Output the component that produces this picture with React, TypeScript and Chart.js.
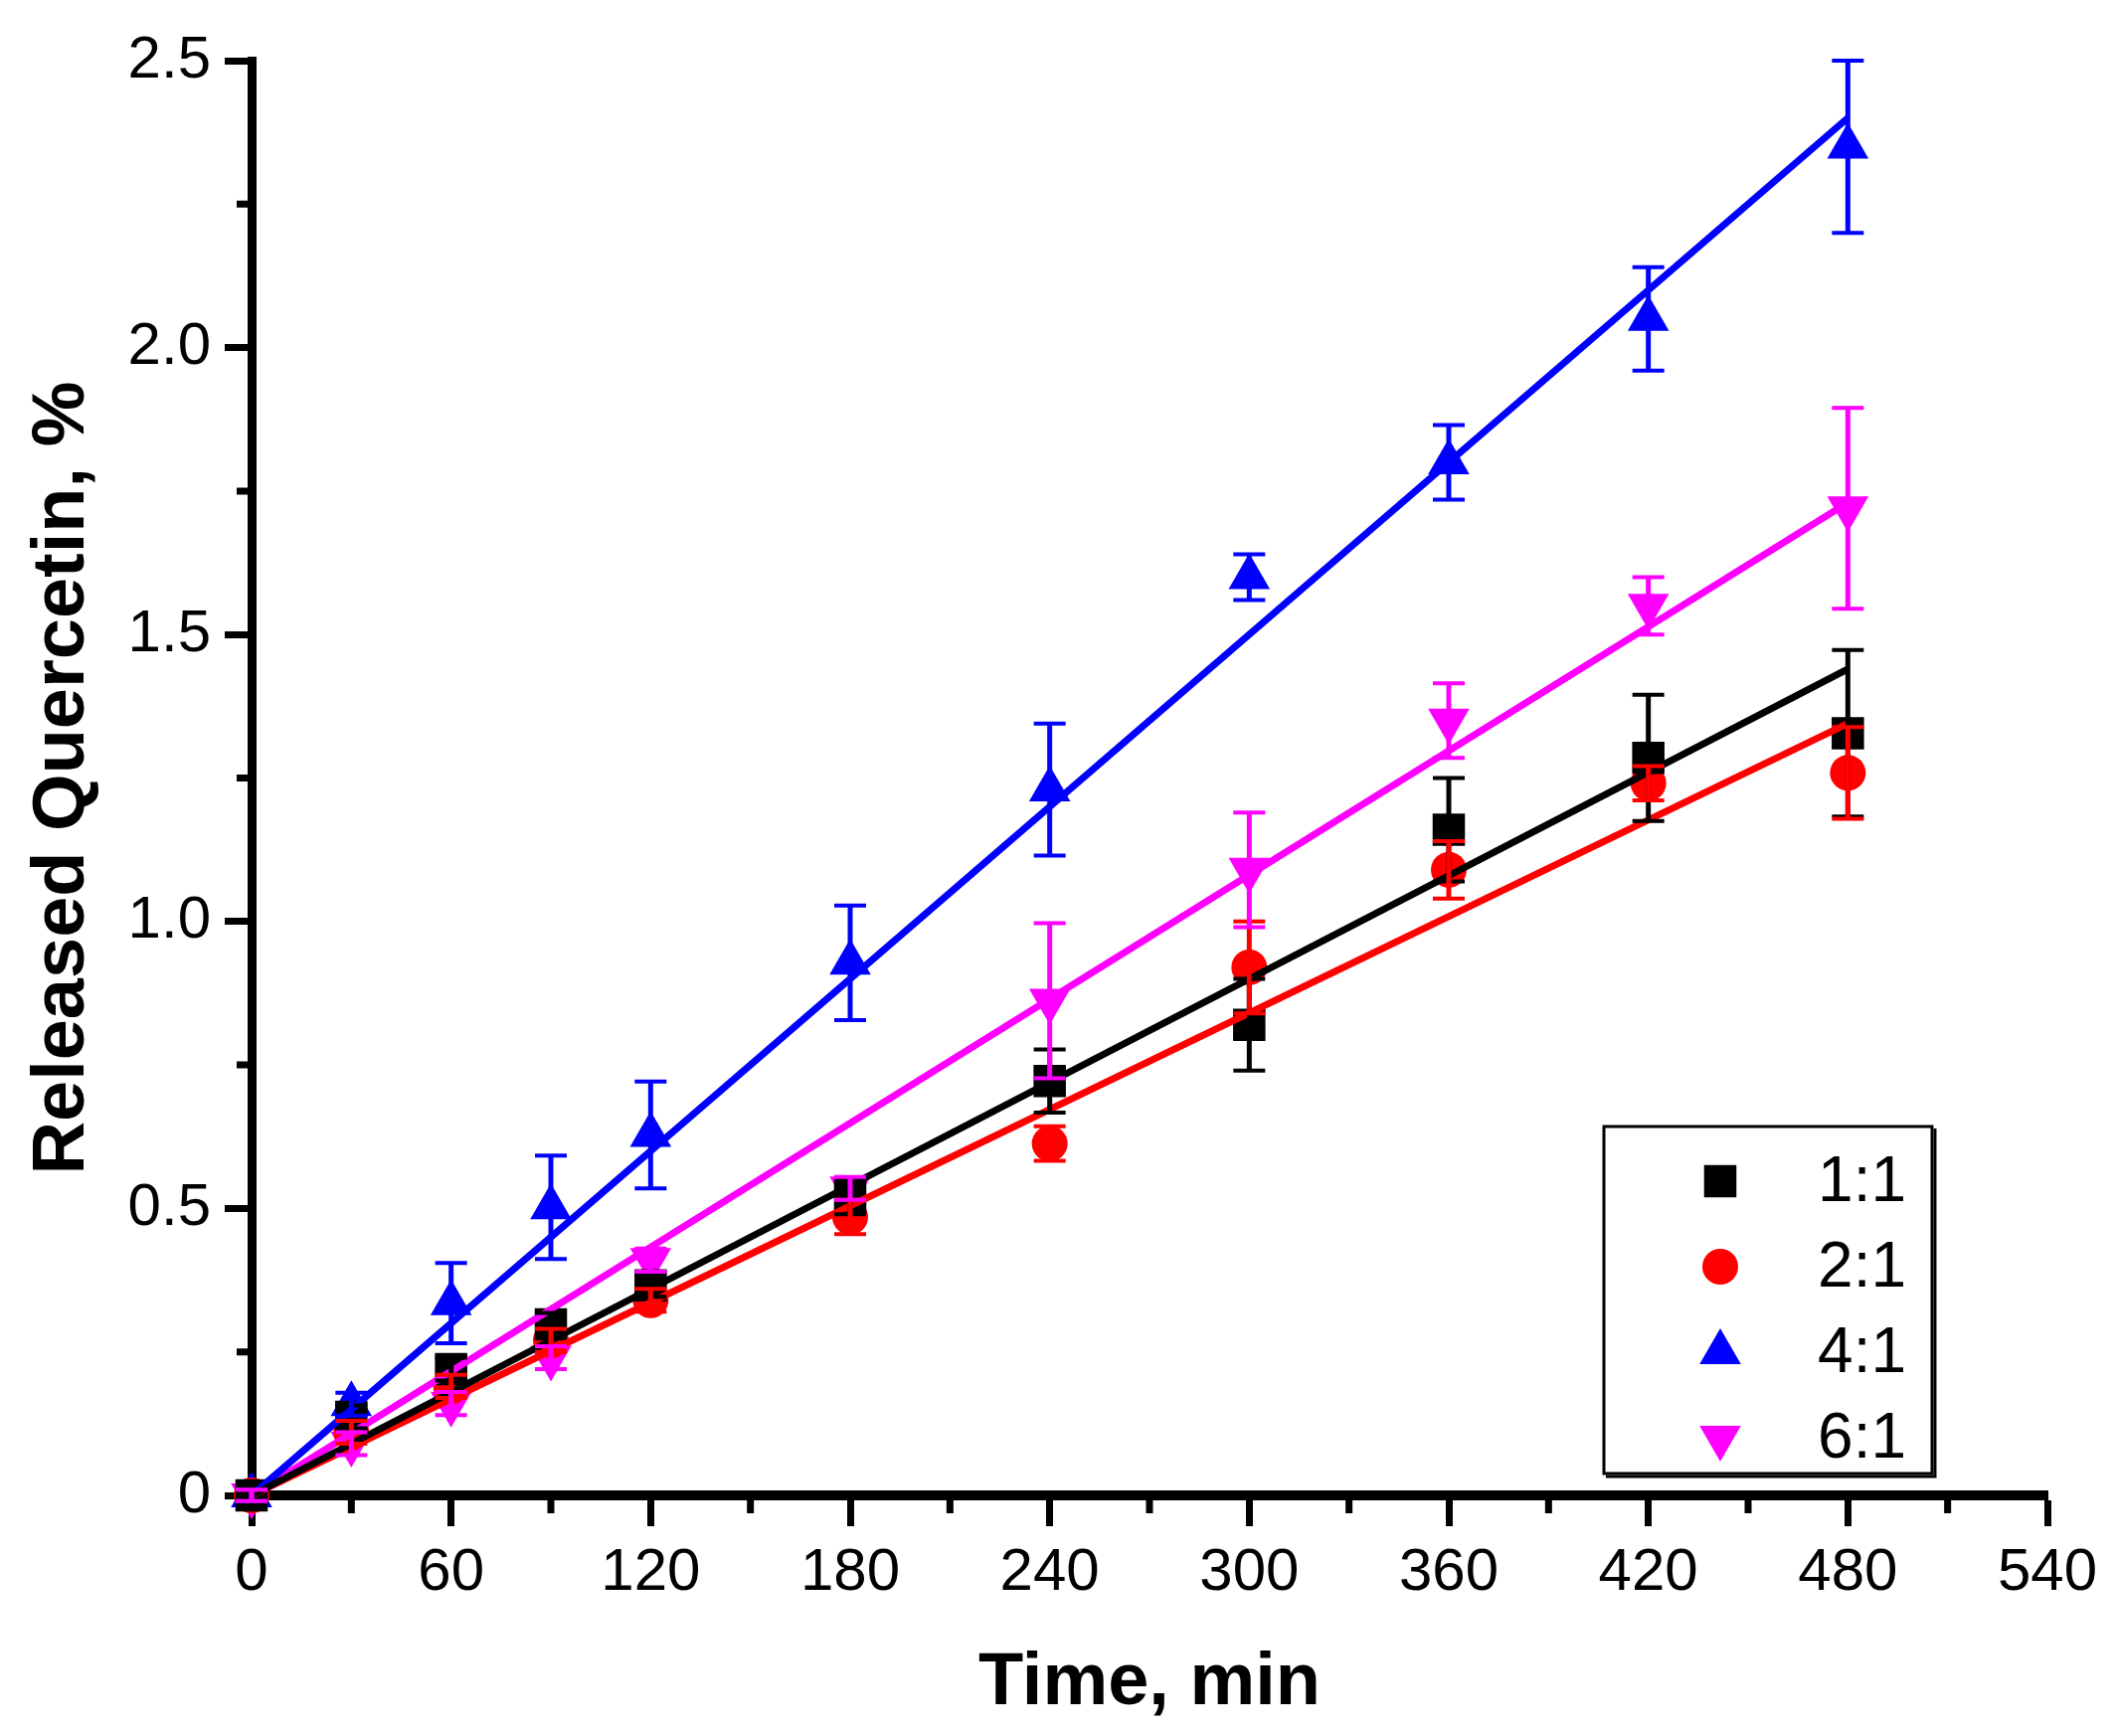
import { useEffect, useRef } from "react"
import { Chart, registerables } from "chart.js"
import { drawPoint } from "chart.js/helpers"

Chart.register(...registerables)

// sampling times, min
const times = [0, 30, 60, 90, 120, 180, 240, 300, 360, 420, 480]
const seriesLabels = ["1:1", "2:1", "4:1", "6:1"]
const seriesColors = ["#000000", "#ff0000", "#0000ff", "#ff00ff"]

// released quercetin, %
const release11 = [0, 0.137, 0.22, 0.298, 0.366, 0.52, 0.722, 0.82, 1.16, 1.285, 1.328]
const release21 = [0, 0.11, 0.19, 0.27, 0.34, 0.485, 0.613, 0.92, 1.09, 1.241, 1.259]
const release41 = [0, 0.159, 0.335, 0.502, 0.628, 0.928, 1.23, 1.6, 1.8, 2.05, 2.35]
const release61 = [0, 0.09, 0.16, 0.24, 0.41, 0.535, 0.862, 1.09, 1.35, 1.55, 1.72]

// standard deviations
const error11 = [0.01, 0.02, 0.02, 0.02, 0.02, 0.03, 0.055, 0.08, 0.09, 0.11, 0.145]
const error21 = [0.01, 0.02, 0.02, 0.02, 0.02, 0.03, 0.03, 0.08, 0.05, 0.03, 0.08]
const error41 = [0.01, 0.02, 0.07, 0.09, 0.093, 0.1, 0.115, 0.04, 0.065, 0.09, 0.15]
const error61 = [0.01, 0.02, 0.02, 0.02, 0.02, 0.02, 0.135, 0.1, 0.065, 0.05, 0.175]

// linear fits (start / end)
const fitTimes = [0, 480]
const fit11 = [0, 1.44]
const fit21 = [0, 1.345]
const fit41 = [0, 2.4]
const fit61 = [0, 1.73]

const xTicks = [0, 60, 120, 180, 240, 300, 360, 420, 480, 540]
const yTicks = [0, 0.5, 1.0, 1.5, 2.0, 2.5]

const pointStyles = [
  { pointStyle: "rect", radius: 23, rotation: 0 },
  { pointStyle: "circle", radius: 18, rotation: 0 },
  { pointStyle: "triangle", radius: 24, rotation: 0 },
  { pointStyle: "triangle", radius: 24, rotation: 180 },
]

const FONT = "'Liberation Sans', Arial, sans-serif"

const toPoints = (xs: number[], ys: number[]) => xs.map((x, i) => ({ x, y: ys[i] }))

// error bars, drawn on top of the markers
const errorBarPlugin = {
  id: "errorBars",
  afterDatasetsDraw(chart: any) {
    const { ctx } = chart
    const yScale = chart.scales.y
    chart.data.datasets.forEach((ds: any, i: number) => {
      if (!ds.errors) return
      const meta = chart.getDatasetMeta(i)
      ctx.save()
      ctx.strokeStyle = ds.backgroundColor
      meta.data.forEach((el: any, j: number) => {
        const v = ds.data[j].y
        const e = ds.errors[j]
        const top = yScale.getPixelForValue(v + e)
        const bottom = yScale.getPixelForValue(v - e)
        ctx.lineWidth = 5
        ctx.beginPath()
        ctx.moveTo(el.x, top)
        ctx.lineTo(el.x, bottom)
        ctx.stroke()
        ctx.lineWidth = 4
        ctx.beginPath()
        ctx.moveTo(el.x - 16, top)
        ctx.lineTo(el.x + 16, top)
        ctx.moveTo(el.x - 16, bottom)
        ctx.lineTo(el.x + 16, bottom)
        ctx.stroke()
      })
      ctx.restore()
    })
  },
}

// short minor ticks halfway between the labelled ones
const minorTickPlugin = {
  id: "minorTicks",
  afterDraw(chart: any) {
    const { ctx, chartArea } = chart
    const x = chart.scales.x
    const y = chart.scales.y
    ctx.save()
    ctx.strokeStyle = "#000"
    ctx.lineWidth = 7
    ctx.beginPath()
    for (let i = 0; i < xTicks.length - 1; i++) {
      const px = x.getPixelForValue((xTicks[i] + xTicks[i + 1]) / 2)
      ctx.moveTo(px, chartArea.bottom)
      ctx.lineTo(px, chartArea.bottom + 18)
    }
    for (let i = 0; i < yTicks.length - 1; i++) {
      const py = y.getPixelForValue((yTicks[i] + yTicks[i + 1]) / 2)
      ctx.moveTo(chartArea.left, py)
      ctx.lineTo(chartArea.left - 15, py)
    }
    ctx.stroke()
    ctx.restore()
  },
}

// boxed legend inside the lower right of the plot
const boxLegendPlugin = {
  id: "boxLegend",
  afterDraw(chart: any) {
    const { ctx, chartArea } = chart
    const w = 330
    const h = 349
    const right = chartArea.right - 116
    const bottom = chartArea.bottom - 22
    const left = right - w
    const top = bottom - h
    ctx.save()
    ctx.fillStyle = "#fff"
    ctx.fillRect(left, top, w, h)
    ctx.strokeStyle = "#000"
    ctx.lineWidth = 3
    ctx.strokeRect(left, top, w, h)
    ctx.lineWidth = 3
    ctx.beginPath()
    ctx.moveTo(left + 2, bottom + 3)
    ctx.lineTo(right + 3, bottom + 3)
    ctx.lineTo(right + 3, top + 2)
    ctx.stroke()
    seriesLabels.forEach((label, i) => {
      const cy = top + 55 + i * 86
      ctx.fillStyle = seriesColors[i]
      drawPoint(ctx, { ...pointStyles[i], borderWidth: 0 }, left + 117, cy)
      ctx.fillStyle = "#000"
      ctx.font = `64px ${FONT}`
      ctx.textAlign = "right"
      ctx.textBaseline = "middle"
      ctx.fillText(label, left + 304, cy + 2)
    })
    ctx.restore()
  },
}

export default function App() {
  const canvasRef = useRef<HTMLCanvasElement>(null)

  useEffect(() => {
    document.body.style.margin = "0"
    if (!canvasRef.current) return

    const releases = [release11, release21, release41, release61]
    const errors = [error11, error21, error41, error61]
    const fits = [fit11, fit21, fit41, fit61]

    const fitSets = fits.map((f, i) => ({
      label: `fit ${seriesLabels[i]}`,
      data: toPoints(fitTimes, f),
      showLine: true,
      borderColor: seriesColors[i],
      backgroundColor: seriesColors[i],
      borderWidth: 7,
      pointRadius: 0,
      clip: false as const,
    }))

    const pointSets = releases.map((r, i) => ({
      label: seriesLabels[i],
      data: toPoints(times, r),
      errors: errors[i],
      showLine: false,
      backgroundColor: seriesColors[i],
      borderColor: seriesColors[i],
      pointStyle: pointStyles[i].pointStyle,
      pointRadius: pointStyles[i].radius,
      pointRotation: pointStyles[i].rotation,
      pointBorderWidth: 0,
      clip: false as const,
    }))

    const chart = new Chart(canvasRef.current, {
      type: "scatter",
      data: { datasets: [...fitSets, ...pointSets] as any },
      plugins: [errorBarPlugin, minorTickPlugin, boxLegendPlugin],
      options: {
        animation: false,
        responsive: true,
        maintainAspectRatio: false,
        layout: { padding: { top: 61, right: 69, left: 0, bottom: 0 } },
        plugins: {
          legend: { display: false },
          tooltip: { enabled: false },
        },
        scales: {
          x: {
            type: "linear",
            min: 0,
            max: 540,
            afterFit: (scale: any) => {
              scale.height = 242
            },
            afterBuildTicks: (scale: any) => {
              scale.ticks = xTicks.map((v) => ({ value: v }))
            },
            border: { display: true, color: "#000", width: 10 },
            grid: { drawOnChartArea: false, drawTicks: true, tickLength: 31, tickWidth: 7, tickColor: "#000" },
            ticks: {
              color: "#000",
              padding: 11,
              maxRotation: 0,
              font: { family: FONT, size: 60 },
            },
            title: {
              display: true,
              text: "Time, min",
              color: "#000",
              padding: { top: 0, bottom: 8 },
              font: { family: FONT, size: 74, weight: "bold" },
            },
          },
          y: {
            type: "linear",
            min: 0,
            max: 2.5,
            afterFit: (scale: any) => {
              scale.width = 253
            },
            afterBuildTicks: (scale: any) => {
              scale.ticks = yTicks.map((v) => ({ value: v }))
            },
            border: { display: true, color: "#000", width: 9 },
            grid: { drawOnChartArea: false, drawTicks: true, tickLength: 27, tickWidth: 7, tickColor: "#000" },
            ticks: {
              color: "#000",
              padding: 14,
              font: { family: FONT, size: 60 },
              callback: (v: any) => (Number(v) === 0 ? "0" : Number(v).toFixed(1)),
            },
            title: {
              display: true,
              text: "Released Quercetin, %",
              color: "#000",
              padding: { top: 19, bottom: 0 },
              font: { family: FONT, size: 74, weight: "bold" },
            },
          },
        },
      } as any,
    })

    return () => {
      chart.destroy()
    }
  }, [])

  return (
    <div style={{ width: 2128, height: 1746, position: "relative", background: "#fff" }}>
      <canvas ref={canvasRef}></canvas>
    </div>
  )
}
